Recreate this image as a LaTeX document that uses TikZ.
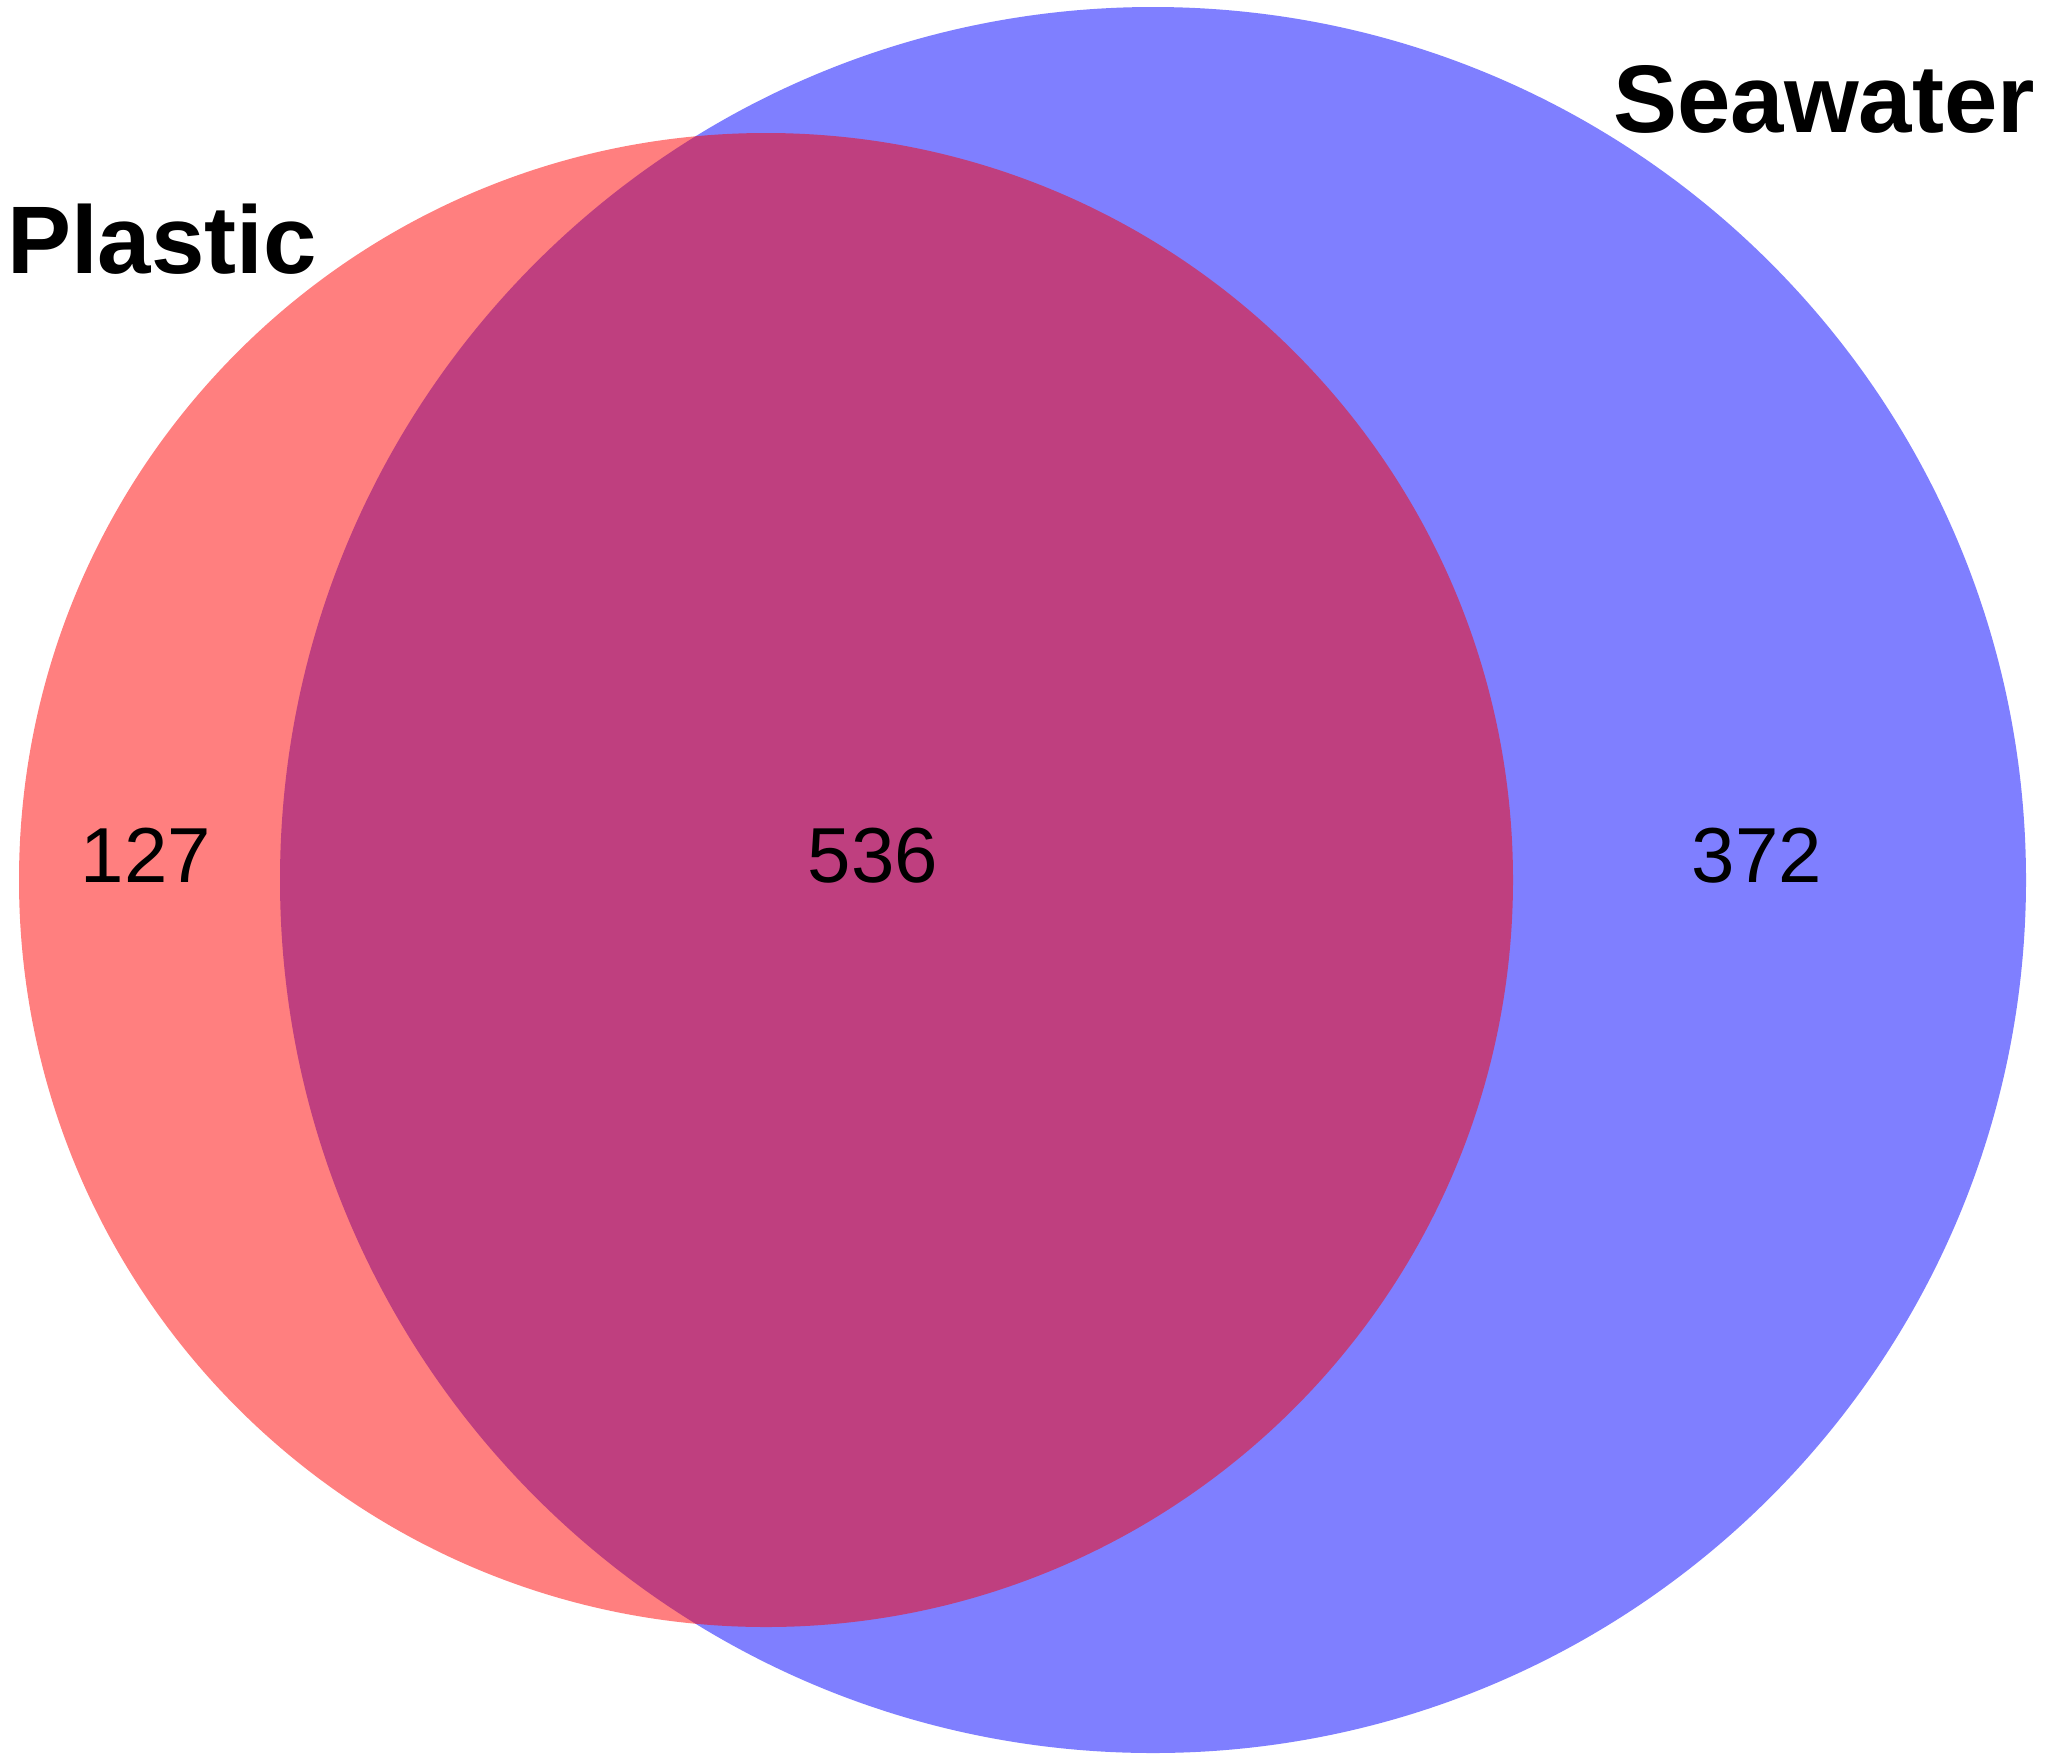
\documentclass[tikz,border=0pt]{standalone}
\usepackage{fontspec}
\setmainfont{Liberation Sans}
\begin{document}
\begin{tikzpicture}[x=1pt,y=-1pt,
  setfill/.style={fill opacity=0.5},
  title/.style={font=\fontsize{96}{96}\selectfont\bfseries, inner sep=0pt},
  count/.style={font=\fontsize{78}{78}\selectfont, inner sep=0pt}]
\useasboundingbox (0,0) rectangle (2047,1762);
\fill[white] (0,0) rectangle (2047,1762);
\coordinate (sw) at (1153,880);
\coordinate (pl) at (766,880);
\fill[blue, setfill] (sw) circle (873pt);
\fill[red, setfill] (pl) circle (747pt);
\node[title, anchor=base west] (plastic) at (7,273) {Plastic};
\node[title, anchor=base west] (seawater) at (1613,132) {Seawater};
\node[count, anchor=base] (n127) at (146,882) {127};
\node[count, anchor=base] (n536) at (873,882) {536};
\node[count, anchor=base] (n372) at (1757,882) {372};
\end{tikzpicture}
\end{document}
